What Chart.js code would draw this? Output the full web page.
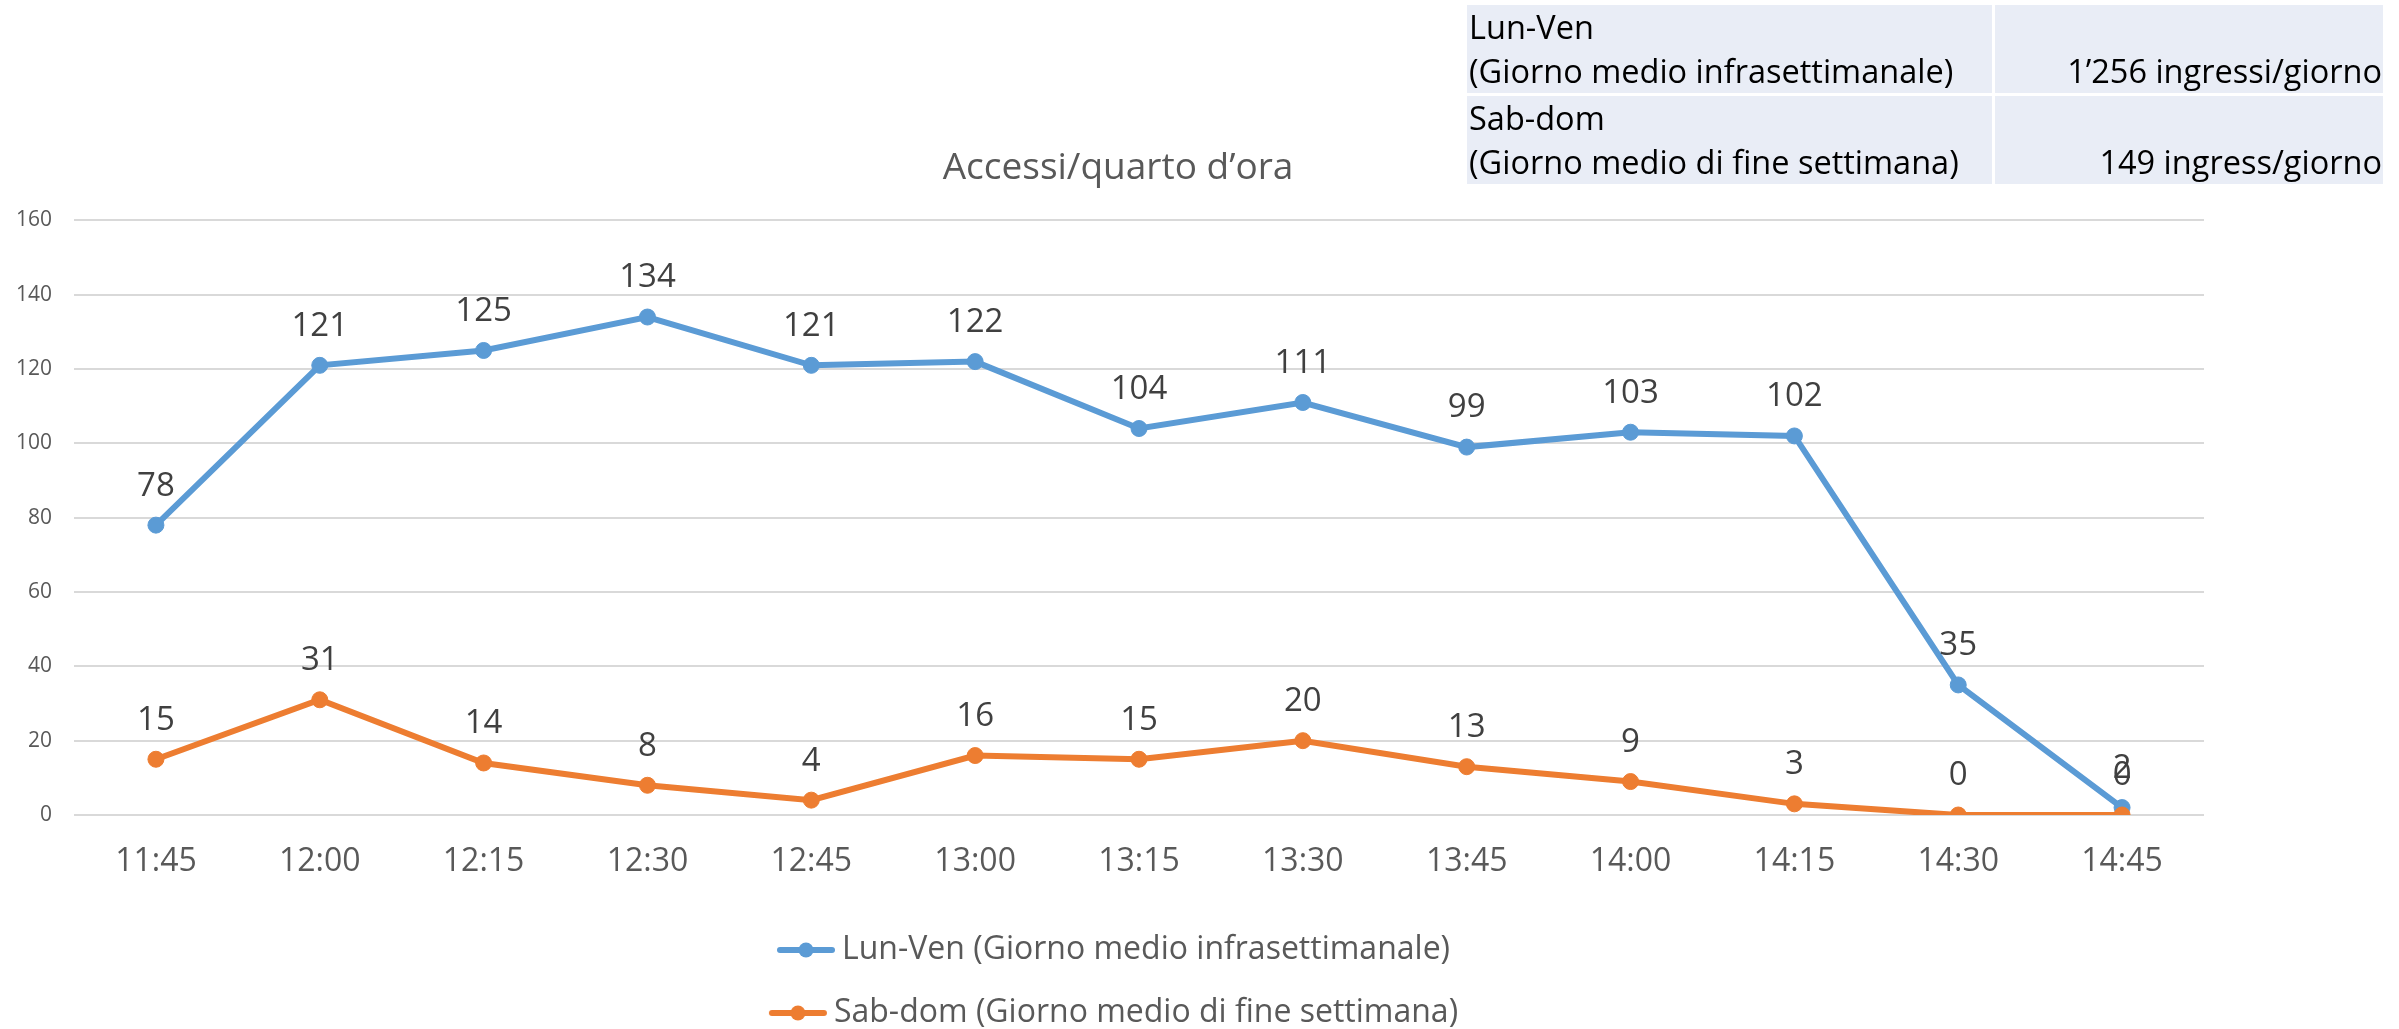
<!DOCTYPE html>
<html>
<head>
<meta charset="utf-8">
<script src="https://cdn.jsdelivr.net/npm/chart.js@4/dist/chart.umd.min.js"></script>
<style>
  html, body { margin: 0; padding: 0; background: #ffffff; }
  #wrap { position: relative; width: 2399px; height: 1029px; overflow: hidden; background: #ffffff; }
  #c { position: absolute; left: 0; top: 0; }
  #info {
    position: absolute; left: 1464px; top: 2px;
    border-collapse: separate; border-spacing: 3px;
    font-family: 'Open Sans', sans-serif; font-size: 32.5px; line-height: 44px; color: #000;
  }
  #info td { background: #E9EDF6; padding: 0; vertical-align: bottom; white-space: nowrap; }
  #info td.l { width: 523px; padding-left: 2px; text-align: left; }
  #info td.r { width: 387px; padding-right: 1px; text-align: right; }
</style>
</head>
<body>
<div id="wrap">
  <canvas id="c" width="2399" height="1029"></canvas>
  <table id="info">
    <tr><td class="l">Lun-Ven<br>(Giorno medio infrasettimanale)</td><td class="r">1’256 ingressi/giorno</td></tr>
    <tr><td class="l">Sab-dom<br>(Giorno medio di fine settimana)</td><td class="r">149 ingress/giorno</td></tr>
  </table>
</div>
<script>
// ---- data ----
const categories = ['11:45','12:00','12:15','12:30','12:45','13:00','13:15','13:30','13:45','14:00','14:15','14:30','14:45'];
const weekdayValues = [78, 121, 125, 134, 121, 122, 104, 111, 99, 103, 102, 35, 2];
const weekendValues = [15, 31, 14, 8, 4, 16, 15, 20, 13, 9, 3, 0, 0];
const seriesNames = ['Lun-Ven (Giorno medio infrasettimanale)', 'Sab-dom (Giorno medio di fine settimana)'];
const chartTitle = 'Accessi/quarto d’ora';
const yMin = 0, yMax = 160, yStep = 20;

const BLUE = '#5B9BD5';
const ORANGE = '#ED7D31';
const FONT = "'Open Sans', sans-serif";
const LEGEND_ROW_WIDTH = 900;

function makeMarker(color) {
  const c = document.createElement('canvas');
  c.width = 60; c.height = 20;
  const g = c.getContext('2d');
  g.strokeStyle = color; g.lineWidth = 6; g.lineCap = 'round';
  g.beginPath(); g.moveTo(4, 10); g.lineTo(56, 10); g.stroke();
  g.fillStyle = color;
  g.beginPath(); g.arc(30, 10, 7.5, 0, Math.PI * 2); g.fill();
  return c;
}
const markers = [makeMarker(BLUE), makeMarker(ORANGE)];

// Stack the two legend entries in two centred rows, and let the y labels use the left margin.
const layoutTweaks = {
  id: 'layoutTweaks',
  beforeLayout(chart) {
    const lg = chart.legend;
    if (lg && !lg.__wrapped) {
      const orig = lg.update;
      lg.update = function (maxWidth, maxHeight, margins) {
        return orig.call(this, Math.min(maxWidth, LEGEND_ROW_WIDTH), maxHeight, margins);
      };
      lg.__wrapped = true;
    }
  },
  afterLayout(chart) {
    const lg = chart.legend;
    if (lg) {
      const mid = (lg.left + lg.right) / 2;
      lg.left = mid - LEGEND_ROW_WIDTH / 2;
      lg.right = mid + LEGEND_ROW_WIDTH / 2;
      lg.width = LEGEND_ROW_WIDTH;
    }
    const y = chart.scales.y;
    if (y) { y.left = 0; y.width = y.right; }
  }
};

const valueLabels = {
  id: 'valueLabels',
  afterDatasetsDraw(chart) {
    const ctx = chart.ctx;
    ctx.save();
    ctx.font = "33px " + FONT;
    ctx.fillStyle = '#404040';
    ctx.textAlign = 'center';
    ctx.textBaseline = 'middle';
    chart.data.datasets.forEach((ds, i) => {
      const meta = chart.getDatasetMeta(i);
      meta.data.forEach((pt, j) => {
        ctx.fillText(String(ds.data[j]), pt.x, pt.y - 39);
      });
    });
    ctx.restore();
  }
};

Chart.defaults.font.family = FONT;

new Chart(document.getElementById('c'), {
  type: 'line',
  data: {
    labels: categories,
    datasets: [
      {
        label: seriesNames[0], data: weekdayValues, order: 1,
        borderColor: BLUE, backgroundColor: BLUE, borderWidth: 6,
        pointRadius: 8, pointBackgroundColor: BLUE, pointBorderColor: BLUE, pointBorderWidth: 1,
        tension: 0, fill: false
      },
      {
        label: seriesNames[1], data: weekendValues, order: 0,
        borderColor: ORANGE, backgroundColor: ORANGE, borderWidth: 6,
        pointRadius: 8, pointBackgroundColor: ORANGE, pointBorderColor: ORANGE, pointBorderWidth: 1,
        tension: 0, fill: false
      }
    ]
  },
  options: {
    responsive: false,
    animation: false,
    devicePixelRatio: 1,
    layout: { padding: { left: 32, right: 195, top: 0, bottom: -10 } },
    plugins: {
      title: {
        display: true, text: chartTitle, color: '#595959',
        font: { size: 37, weight: 'normal' },
        padding: { top: 146, bottom: 30 }
      },
      legend: {
        display: true, position: 'bottom',
        labels: {
          color: '#595959', font: { size: 32 },
          usePointStyle: true, pointStyleWidth: 40, padding: 31,
          sort: (a, b) => a.datasetIndex - b.datasetIndex,
          generateLabels(chart) {
            const items = Chart.defaults.plugins.legend.labels.generateLabels(chart);
            items.forEach(it => { it.pointStyle = markers[it.datasetIndex]; });
            return items;
          }
        }
      },
      tooltip: { enabled: false }
    },
    scales: {
      x: {
        offset: true,
        grid: { display: false, drawTicks: false },
        border: { display: false },
        ticks: { color: '#595959', font: { size: 32 }, padding: 28, maxRotation: 0, autoSkip: false },
        afterFit(scale) { scale.height = 88; }
      },
      y: {
        min: yMin, max: yMax,
        grid: { color: '#D9D9D9', lineWidth: 2, drawTicks: false },
        border: { display: false },
        ticks: { stepSize: yStep, color: '#595959', font: { size: 21 }, padding: 22 },
        afterFit(scale) { scale.width = 42; }
      }
    }
  },
  plugins: [layoutTweaks, valueLabels]
});
</script>
</body>
</html>
